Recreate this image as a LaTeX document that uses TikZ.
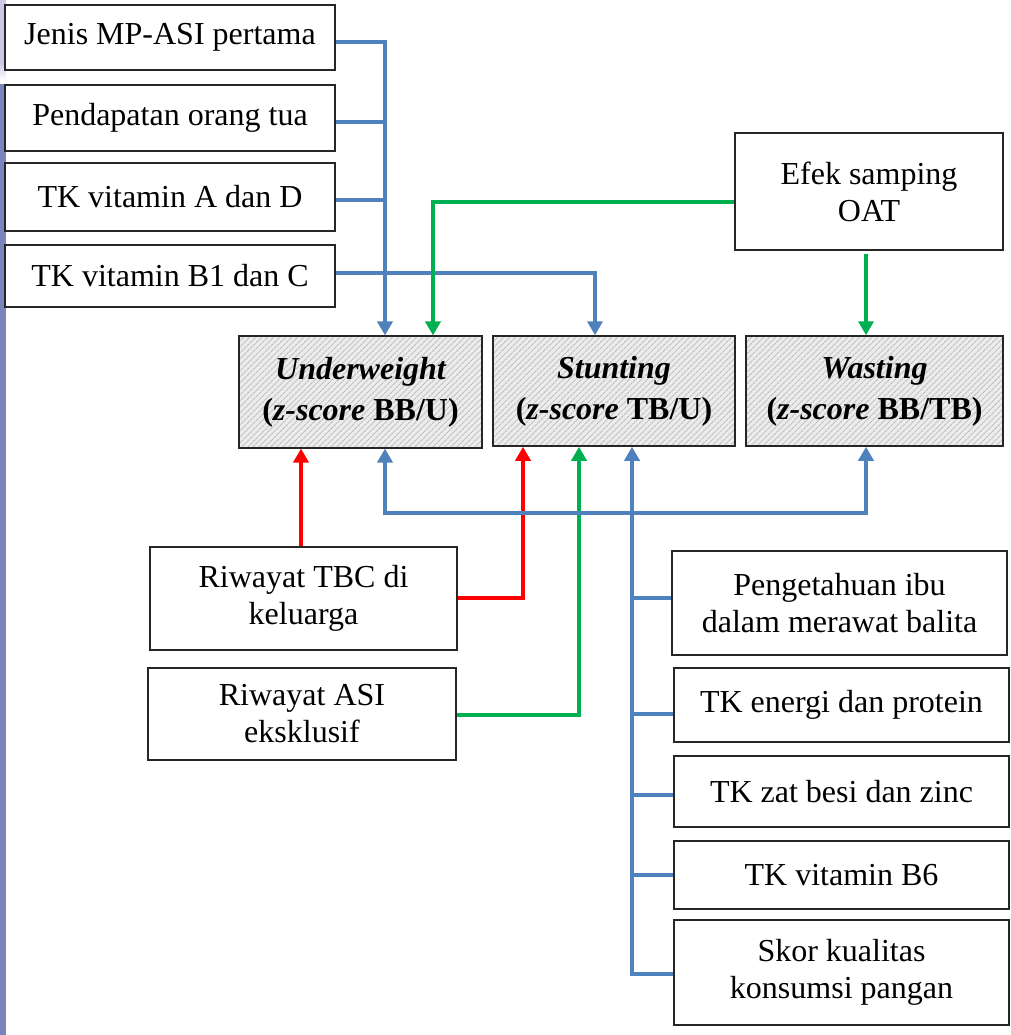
\documentclass[tikz,border=0pt]{standalone}
\usepackage{fontspec}
\setmainfont{Liberation Serif}
\usetikzlibrary{arrows.meta,patterns.meta}
\definecolor{lnblue}{HTML}{4F81BD}
\definecolor{lngreen}{HTML}{00B050}
\definecolor{lnred}{HTML}{FF0000}
\definecolor{barpurple}{HTML}{7B84BC}
\definecolor{barlight}{HTML}{C9C9E6}
\tikzset{
  box/.style={draw=black!85, line width=1.5pt, fill=white, align=center,
    inner sep=0pt, font=\fontsize{32}{37}\selectfont},
  outbox/.style={box, preaction={fill=gray!15},
    pattern={Lines[angle=45,distance=4pt,line width=1.1pt]}, pattern color=gray!50,
    font=\fontsize{32}{41}\selectfont\bfseries},
  conn/.style={line width=4pt},
  bl/.style={conn, draw=lnblue},
  gr/.style={conn, draw=lngreen},
  rd/.style={conn, draw=lnred},
  tip/.style={-{Triangle[width=15pt,length=14pt]}},
  tipstart/.style={{Triangle[width=15pt,length=14pt]}-},
  tipboth/.style={{Triangle[width=15pt,length=14pt]}-{Triangle[width=15pt,length=14pt]}},
}
\begin{document}
\begin{tikzpicture}[x=1pt,y=-1pt]
\useasboundingbox (0,0) rectangle (1010,1035);
\fill[white] (0,0) rectangle (1010,1035);

% page margin bar on the left
\fill[barlight] (0,0) rectangle (6,63);
\shade[top color=barlight, bottom color=white] (0,63) rectangle (6,80);
\fill[barpurple] (0,84) rectangle (6,1035);

% column x positions of the vertical connectors
\coordinate (bx) at (385,0);
\coordinate (gx1) at (433,0);
\coordinate (bx2) at (595,0);
\coordinate (gx) at (866,0);
\coordinate (rx0) at (301,0);
\coordinate (rx) at (523,0);
\coordinate (gx2) at (579,0);
\coordinate (tx) at (632,0);

% factors, upper left
\node[box, minimum width=330pt, minimum height=65pt] (jenis) at (170,37.5) {\raisebox{-3pt}{Jenis MP-ASI pertama}};
\node[box, minimum width=330pt, minimum height=66pt] (pend) at (170,118) {\raisebox{-2pt}{Pendapatan orang tua}};
\node[box, minimum width=330pt, minimum height=68pt] (vita) at (170,197) {TK vitamin A dan D};
\node[box, minimum width=330pt, minimum height=62pt] (vitb) at (170,276) {TK vitamin B1 dan C};

% side effect
\node[box, minimum width=268pt, minimum height=117pt] (efek) at (869,191.5) {Efek samping\\OAT};

% outcomes
\node[outbox, minimum width=243pt, minimum height=112pt] (uw) at (360.5,392) {\itshape Underweight\\(\textit{z-score} BB/U)};
\node[outbox, minimum width=242pt, minimum height=110pt] (stun) at (614,391) {\itshape Stunting\\(\textit{z-score} TB/U)};
\node[outbox, minimum width=257pt, minimum height=110pt] (wast) at (874.5,391) {\itshape Wasting\\(\textit{z-score} BB/TB)};

% factors, lower left
\node[box, minimum width=307pt, minimum height=103pt] (tbc) at (303.5,598.5) {Riwayat TBC di\\keluarga};
\node[box, minimum width=308pt, minimum height=92pt] (asi) at (302,714) {Riwayat ASI\\eksklusif};

% factors, lower right
\node[box, minimum width=335pt, minimum height=104pt] (peng) at (839.5,603) {Pengetahuan ibu\\dalam merawat balita};
\node[box, minimum width=335pt, minimum height=74pt] (ener) at (841.5,705) {TK energi dan protein};
\node[box, minimum width=335pt, minimum height=71pt] (zat) at (841.5,791.5) {TK zat besi dan zinc};
\node[box, minimum width=335pt, minimum height=68pt] (bsix) at (841.5,875) {TK vitamin B6};
\node[box, minimum width=335pt, minimum height=105pt] (skor) at (841.5,972.5) {Skor kualitas\\konsumsi pangan};

% blue bus into Underweight
\draw[bl, tip] ([yshift=-4.5pt]jenis.east) -| (uw.north -| bx);
\draw[bl] ([yshift=-4pt]pend.east) -- ([yshift=-4pt]pend.east -| bx);
\draw[bl] ([yshift=-3pt]vita.east) -- ([yshift=-3pt]vita.east -| bx);
% blue line into Stunting
\draw[bl, tip] ([yshift=3pt]vitb.east) -| (stun.north -| bx2);

% green lines from the side effect
\draw[gr, tip] ([yshift=-10.5pt]efek.west) -| (uw.north -| gx1);
\draw[gr, tip] ([yshift=-3pt]efek.south -| gx) -- (wast.north -| gx);

% red and green lines from the lower left factors
\draw[rd, tip] (tbc.north -| rx0) -- (uw.south -| rx0);
\draw[rd, tip] ([yshift=0.5pt]tbc.east) -| (stun.south -| rx);
\draw[gr, tip] ([yshift=-1pt]asi.east) -| (stun.south -| gx2);

% blue link between Underweight and Wasting
\draw[bl, tipboth] (uw.south -| bx) -- ++(0,64) -| (wast.south -| gx);

% blue bus into Stunting from the lower right factors
\draw[bl, tipstart] (stun.south -| tx) -- ([yshift=-1.5pt]skor.west -| tx) -- ([yshift=-1.5pt]skor.west);
\draw[bl] ([yshift=5pt]peng.west) -- ([yshift=5pt]peng.west -| tx);
\draw[bl] ([yshift=-9pt]ener.west) -- ([yshift=-9pt]ener.west -| tx);
\draw[bl] ([yshift=-3.5pt]zat.west) -- ([yshift=-3.5pt]zat.west -| tx);
\draw[bl] (bsix.west) -- (bsix.west -| tx);
\end{tikzpicture}
\end{document}
